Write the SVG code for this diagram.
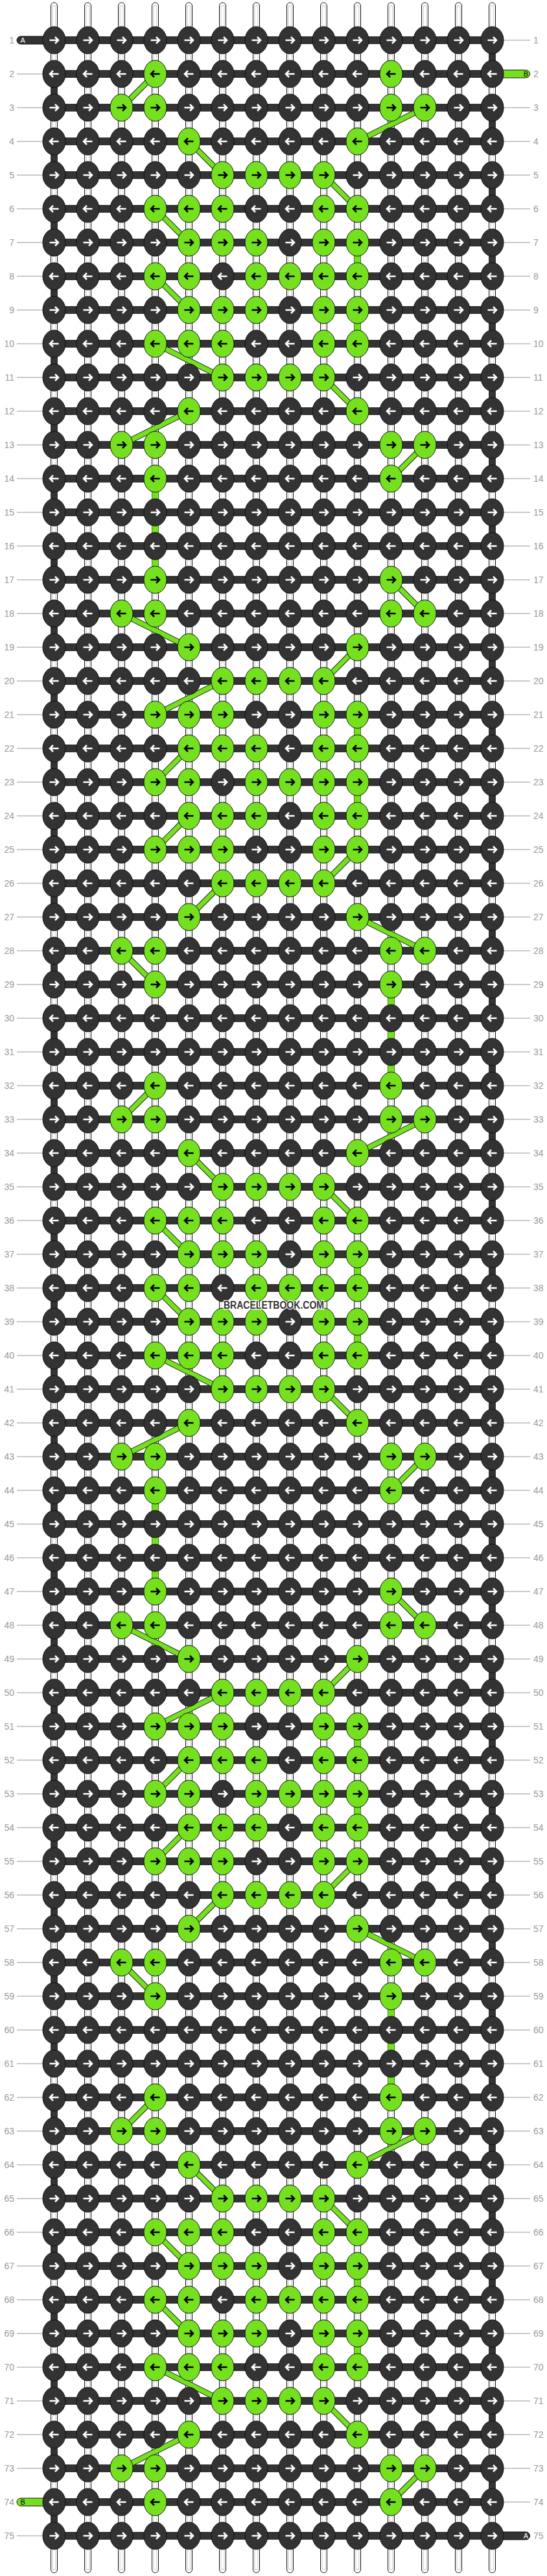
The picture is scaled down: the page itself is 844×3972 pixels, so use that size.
<svg xmlns="http://www.w3.org/2000/svg" xmlns:xlink="http://www.w3.org/1999/xlink" width="844" height="3972" viewBox="0 0 844 3972">
<style>
.kn{fill:#333;color:#fff}
.g{fill:#75e11e;color:#000}
.vs{fill:#fff;stroke:#111;stroke-width:1}
.vi{fill:none;stroke:#c8c8c8;stroke-width:1}
.hb{fill:none;stroke:#333;stroke-width:12}
.tn{fill:none;stroke:#333;stroke-width:11;stroke-dasharray:52 52}
.gv{fill:none;stroke:#75e11e;stroke-width:10}
.do{fill:none;stroke:#1a1a1a;stroke-width:9}
.di{fill:none;stroke:#75e11e;stroke-width:7}
.lb{font-family:"Liberation Sans",Arial,sans-serif;font-size:14px;fill:#999}
.ll{text-anchor:end}
.ln{fill:none;stroke:#bbb;stroke-width:1.5}
.st{font-family:"Liberation Sans",Arial,sans-serif;font-size:11px}
</style>
<defs>
<g id="R"><ellipse rx="17.5" ry="21" stroke="#111" stroke-width="1"/><path d="M-7 0H6M1.5-5L6.5 0 1.5 5" fill="none" stroke="currentColor" stroke-width="2.6"/></g>
<g id="L"><ellipse rx="17.5" ry="21" stroke="#111" stroke-width="1"/><path d="M7 0H-6M-1.5-5L-6.5 0-1.5 5" fill="none" stroke="currentColor" stroke-width="2.6"/></g>
<path id="dg1" d="M239 114L187 166M655 166L551 218M291 218L343 270M499 270L551 322M239 322L291 374M239 426L291 478M239 530L343 582M499 582L551 634M291 634L187 686M655 686L603 738"/>
<path id="dg2" d="M603 894L655 946M187 946L291 998M551 998L499 1050M343 1050L239 1102M291 1154L239 1206M291 1258L239 1310M551 1310L499 1362M343 1362L291 1414M551 1414L655 1466M187 1466L239 1518"/>
<path id="gv1" d="M551 374V426M551 478V530"/>
<path id="gv2" d="M551 1102V1154M551 1206V1258"/>
</defs>
<rect width="844" height="3972" fill="#fff"/>
<g id="connectors" transform="translate(.5 0)">
<g id="vertical-strands">
<rect class="vs" x="78" y="4" width="10" height="3963" rx="5"/><rect class="vi" x="80.5" y="9" width="5" height="3953"/>
<rect class="vs" x="130" y="4" width="10" height="3963" rx="5"/><rect class="vi" x="132.5" y="9" width="5" height="3953"/>
<rect class="vs" x="182" y="4" width="10" height="3963" rx="5"/><rect class="vi" x="184.5" y="9" width="5" height="3953"/>
<rect class="vs" x="234" y="4" width="10" height="3963" rx="5"/><rect class="vi" x="236.5" y="9" width="5" height="3953"/>
<rect class="vs" x="286" y="4" width="10" height="3963" rx="5"/><rect class="vi" x="288.5" y="9" width="5" height="3953"/>
<rect class="vs" x="338" y="4" width="10" height="3963" rx="5"/><rect class="vi" x="340.5" y="9" width="5" height="3953"/>
<rect class="vs" x="390" y="4" width="10" height="3963" rx="5"/><rect class="vi" x="392.5" y="9" width="5" height="3953"/>
<rect class="vs" x="442" y="4" width="10" height="3963" rx="5"/><rect class="vi" x="444.5" y="9" width="5" height="3953"/>
<rect class="vs" x="494" y="4" width="10" height="3963" rx="5"/><rect class="vi" x="496.5" y="9" width="5" height="3953"/>
<rect class="vs" x="546" y="4" width="10" height="3963" rx="5"/><rect class="vi" x="548.5" y="9" width="5" height="3953"/>
<rect class="vs" x="598" y="4" width="10" height="3963" rx="5"/><rect class="vi" x="600.5" y="9" width="5" height="3953"/>
<rect class="vs" x="650" y="4" width="10" height="3963" rx="5"/><rect class="vi" x="652.5" y="9" width="5" height="3953"/>
<rect class="vs" x="702" y="4" width="10" height="3963" rx="5"/><rect class="vi" x="704.5" y="9" width="5" height="3953"/>
<rect class="vs" x="754" y="4" width="10" height="3963" rx="5"/><rect class="vi" x="756.5" y="9" width="5" height="3953"/>
</g>
<path class="tn" d="M83 114V3910"/>
<path class="tn" d="M759 62V3858"/>
<g id="green-verticals">
<use href="#gv1" class="gv"/><use href="#gv1" class="gv" y="1560"/><use href="#gv1" class="gv" y="3120"/>
<use href="#gv2" class="gv"/><use href="#gv2" class="gv" y="1560"/>
<path class="gv" d="M239 738V894M239 2298V2454M603 1518V1674M603 3078V3234"/>
</g>
<path class="hb" d="M83 62H759M83 114H759M83 166H759M83 218H759M83 270H759M83 322H759M83 374H759M83 426H759M83 478H759M83 530H759M83 582H759M83 634H759M83 686H759M83 738H759M83 790H759M83 842H759M83 894H759M83 946H759M83 998H759M83 1050H759M83 1102H759M83 1154H759M83 1206H759M83 1258H759M83 1310H759M83 1362H759M83 1414H759M83 1466H759M83 1518H759M83 1570H759M83 1622H759M83 1674H759M83 1726H759M83 1778H759M83 1830H759M83 1882H759M83 1934H759M83 1986H759M83 2038H759M83 2090H759M83 2142H759M83 2194H759M83 2246H759M83 2298H759M83 2350H759M83 2402H759M83 2454H759M83 2506H759M83 2558H759M83 2610H759M83 2662H759M83 2714H759M83 2766H759M83 2818H759M83 2870H759M83 2922H759M83 2974H759M83 3026H759M83 3078H759M83 3130H759M83 3182H759M83 3234H759M83 3286H759M83 3338H759M83 3390H759M83 3442H759M83 3494H759M83 3546H759M83 3598H759M83 3650H759M83 3702H759M83 3754H759M83 3806H759M83 3858H759M83 3910H759"/>
<g id="stubs">
<rect x="25.5" y="56" width="60" height="12" rx="6" fill="#333" stroke="#111"/>
<rect x="758" y="108" width="59" height="12" rx="6" fill="#75e11e" stroke="#111"/>
<rect x="25.5" y="3852" width="60" height="12" rx="6" fill="#75e11e" stroke="#111"/>
<rect x="758" y="3904" width="59" height="12" rx="6" fill="#333" stroke="#111"/>
</g>
<g id="diagonals">
<use href="#dg1" class="do"/><use href="#dg1" class="di"/>
<use href="#dg1" class="do" y="1560"/><use href="#dg1" class="di" y="1560"/>
<use href="#dg1" class="do" y="3120"/><use href="#dg1" class="di" y="3120"/>
<use href="#dg2" class="do"/><use href="#dg2" class="di"/>
<use href="#dg2" class="do" y="1560"/><use href="#dg2" class="di" y="1560"/>
</g>
</g>
<g id="stub-labels" class="st">
<text x="31.5" y="66" fill="#fff">A</text>
<text x="815" y="118" fill="#000" text-anchor="end">B</text>
<text x="31.5" y="3862" fill="#000">B</text>
<text x="815" y="3914" fill="#fff" text-anchor="end">A</text>
</g>
<path class="ln" d="M26 114h40M26 166h40M26 218h40M26 270h40M26 322h40M26 374h40M26 426h40M26 478h40M26 530h40M26 582h40M26 634h40M26 686h40M26 738h40M26 790h40M26 842h40M26 894h40M26 946h40M26 998h40M26 1050h40M26 1102h40M26 1154h40M26 1206h40M26 1258h40M26 1310h40M26 1362h40M26 1414h40M26 1466h40M26 1518h40M26 1570h40M26 1622h40M26 1674h40M26 1726h40M26 1778h40M26 1830h40M26 1882h40M26 1934h40M26 1986h40M26 2038h40M26 2090h40M26 2142h40M26 2194h40M26 2246h40M26 2298h40M26 2350h40M26 2402h40M26 2454h40M26 2506h40M26 2558h40M26 2610h40M26 2662h40M26 2714h40M26 2766h40M26 2818h40M26 2870h40M26 2922h40M26 2974h40M26 3026h40M26 3078h40M26 3130h40M26 3182h40M26 3234h40M26 3286h40M26 3338h40M26 3390h40M26 3442h40M26 3494h40M26 3546h40M26 3598h40M26 3650h40M26 3702h40M26 3754h40M26 3806h40M26 3910h40"/>
<path class="ln" d="M777 62h41M777 166h41M777 218h41M777 270h41M777 322h41M777 374h41M777 426h41M777 478h41M777 530h41M777 582h41M777 634h41M777 686h41M777 738h41M777 790h41M777 842h41M777 894h41M777 946h41M777 998h41M777 1050h41M777 1102h41M777 1154h41M777 1206h41M777 1258h41M777 1310h41M777 1362h41M777 1414h41M777 1466h41M777 1518h41M777 1570h41M777 1622h41M777 1674h41M777 1726h41M777 1778h41M777 1830h41M777 1882h41M777 1934h41M777 1986h41M777 2038h41M777 2090h41M777 2142h41M777 2194h41M777 2246h41M777 2298h41M777 2350h41M777 2402h41M777 2454h41M777 2506h41M777 2558h41M777 2610h41M777 2662h41M777 2714h41M777 2766h41M777 2818h41M777 2870h41M777 2922h41M777 2974h41M777 3026h41M777 3078h41M777 3130h41M777 3182h41M777 3234h41M777 3286h41M777 3338h41M777 3390h41M777 3442h41M777 3494h41M777 3546h41M777 3598h41M777 3650h41M777 3702h41M777 3754h41M777 3806h41M777 3858h41"/>
<g id="row-labels" class="lb">
<text class="ll" x="22" y="67">1</text><text x="823" y="67">1</text>
<text class="ll" x="22" y="119">2</text><text x="823" y="119">2</text>
<text class="ll" x="22" y="171">3</text><text x="823" y="171">3</text>
<text class="ll" x="22" y="223">4</text><text x="823" y="223">4</text>
<text class="ll" x="22" y="275">5</text><text x="823" y="275">5</text>
<text class="ll" x="22" y="327">6</text><text x="823" y="327">6</text>
<text class="ll" x="22" y="379">7</text><text x="823" y="379">7</text>
<text class="ll" x="22" y="431">8</text><text x="823" y="431">8</text>
<text class="ll" x="22" y="483">9</text><text x="823" y="483">9</text>
<text class="ll" x="22" y="535">10</text><text x="823" y="535">10</text>
<text class="ll" x="22" y="587">11</text><text x="823" y="587">11</text>
<text class="ll" x="22" y="639">12</text><text x="823" y="639">12</text>
<text class="ll" x="22" y="691">13</text><text x="823" y="691">13</text>
<text class="ll" x="22" y="743">14</text><text x="823" y="743">14</text>
<text class="ll" x="22" y="795">15</text><text x="823" y="795">15</text>
<text class="ll" x="22" y="847">16</text><text x="823" y="847">16</text>
<text class="ll" x="22" y="899">17</text><text x="823" y="899">17</text>
<text class="ll" x="22" y="951">18</text><text x="823" y="951">18</text>
<text class="ll" x="22" y="1003">19</text><text x="823" y="1003">19</text>
<text class="ll" x="22" y="1055">20</text><text x="823" y="1055">20</text>
<text class="ll" x="22" y="1107">21</text><text x="823" y="1107">21</text>
<text class="ll" x="22" y="1159">22</text><text x="823" y="1159">22</text>
<text class="ll" x="22" y="1211">23</text><text x="823" y="1211">23</text>
<text class="ll" x="22" y="1263">24</text><text x="823" y="1263">24</text>
<text class="ll" x="22" y="1315">25</text><text x="823" y="1315">25</text>
<text class="ll" x="22" y="1367">26</text><text x="823" y="1367">26</text>
<text class="ll" x="22" y="1419">27</text><text x="823" y="1419">27</text>
<text class="ll" x="22" y="1471">28</text><text x="823" y="1471">28</text>
<text class="ll" x="22" y="1523">29</text><text x="823" y="1523">29</text>
<text class="ll" x="22" y="1575">30</text><text x="823" y="1575">30</text>
<text class="ll" x="22" y="1627">31</text><text x="823" y="1627">31</text>
<text class="ll" x="22" y="1679">32</text><text x="823" y="1679">32</text>
<text class="ll" x="22" y="1731">33</text><text x="823" y="1731">33</text>
<text class="ll" x="22" y="1783">34</text><text x="823" y="1783">34</text>
<text class="ll" x="22" y="1835">35</text><text x="823" y="1835">35</text>
<text class="ll" x="22" y="1887">36</text><text x="823" y="1887">36</text>
<text class="ll" x="22" y="1939">37</text><text x="823" y="1939">37</text>
<text class="ll" x="22" y="1991">38</text><text x="823" y="1991">38</text>
<text class="ll" x="22" y="2043">39</text><text x="823" y="2043">39</text>
<text class="ll" x="22" y="2095">40</text><text x="823" y="2095">40</text>
<text class="ll" x="22" y="2147">41</text><text x="823" y="2147">41</text>
<text class="ll" x="22" y="2199">42</text><text x="823" y="2199">42</text>
<text class="ll" x="22" y="2251">43</text><text x="823" y="2251">43</text>
<text class="ll" x="22" y="2303">44</text><text x="823" y="2303">44</text>
<text class="ll" x="22" y="2355">45</text><text x="823" y="2355">45</text>
<text class="ll" x="22" y="2407">46</text><text x="823" y="2407">46</text>
<text class="ll" x="22" y="2459">47</text><text x="823" y="2459">47</text>
<text class="ll" x="22" y="2511">48</text><text x="823" y="2511">48</text>
<text class="ll" x="22" y="2563">49</text><text x="823" y="2563">49</text>
<text class="ll" x="22" y="2615">50</text><text x="823" y="2615">50</text>
<text class="ll" x="22" y="2667">51</text><text x="823" y="2667">51</text>
<text class="ll" x="22" y="2719">52</text><text x="823" y="2719">52</text>
<text class="ll" x="22" y="2771">53</text><text x="823" y="2771">53</text>
<text class="ll" x="22" y="2823">54</text><text x="823" y="2823">54</text>
<text class="ll" x="22" y="2875">55</text><text x="823" y="2875">55</text>
<text class="ll" x="22" y="2927">56</text><text x="823" y="2927">56</text>
<text class="ll" x="22" y="2979">57</text><text x="823" y="2979">57</text>
<text class="ll" x="22" y="3031">58</text><text x="823" y="3031">58</text>
<text class="ll" x="22" y="3083">59</text><text x="823" y="3083">59</text>
<text class="ll" x="22" y="3135">60</text><text x="823" y="3135">60</text>
<text class="ll" x="22" y="3187">61</text><text x="823" y="3187">61</text>
<text class="ll" x="22" y="3239">62</text><text x="823" y="3239">62</text>
<text class="ll" x="22" y="3291">63</text><text x="823" y="3291">63</text>
<text class="ll" x="22" y="3343">64</text><text x="823" y="3343">64</text>
<text class="ll" x="22" y="3395">65</text><text x="823" y="3395">65</text>
<text class="ll" x="22" y="3447">66</text><text x="823" y="3447">66</text>
<text class="ll" x="22" y="3499">67</text><text x="823" y="3499">67</text>
<text class="ll" x="22" y="3551">68</text><text x="823" y="3551">68</text>
<text class="ll" x="22" y="3603">69</text><text x="823" y="3603">69</text>
<text class="ll" x="22" y="3655">70</text><text x="823" y="3655">70</text>
<text class="ll" x="22" y="3707">71</text><text x="823" y="3707">71</text>
<text class="ll" x="22" y="3759">72</text><text x="823" y="3759">72</text>
<text class="ll" x="22" y="3811">73</text><text x="823" y="3811">73</text>
<text class="ll" x="22" y="3863">74</text><text x="823" y="3863">74</text>
<text class="ll" x="22" y="3915">75</text><text x="823" y="3915">75</text>
</g>
<g id="knots" class="kn">
<g id="row1" transform="translate(.5 62)"><g id="k1-1"><use href="#R" x="83"/></g><g id="k1-2"><use href="#R" x="135"/></g><g id="k1-3"><use href="#R" x="187"/></g><g id="k1-4"><use href="#R" x="239"/></g><g id="k1-5"><use href="#R" x="291"/></g><g id="k1-6"><use href="#R" x="343"/></g><g id="k1-7"><use href="#R" x="395"/></g><g id="k1-8"><use href="#R" x="447"/></g><g id="k1-9"><use href="#R" x="499"/></g><g id="k1-10"><use href="#R" x="551"/></g><g id="k1-11"><use href="#R" x="603"/></g><g id="k1-12"><use href="#R" x="655"/></g><g id="k1-13"><use href="#R" x="707"/></g><g id="k1-14"><use href="#R" x="759"/></g></g>
<g id="row2" transform="translate(.5 114)"><g id="k2-1"><use href="#L" x="83"/></g><g id="k2-2"><use href="#L" x="135"/></g><g id="k2-3"><use href="#L" x="187"/></g><g id="k2-4" class="g"><use href="#L" x="239"/></g><g id="k2-5"><use href="#L" x="291"/></g><g id="k2-6"><use href="#L" x="343"/></g><g id="k2-7"><use href="#L" x="395"/></g><g id="k2-8"><use href="#L" x="447"/></g><g id="k2-9"><use href="#L" x="499"/></g><g id="k2-10"><use href="#L" x="551"/></g><g id="k2-11" class="g"><use href="#L" x="603"/></g><g id="k2-12"><use href="#L" x="655"/></g><g id="k2-13"><use href="#L" x="707"/></g><g id="k2-14"><use href="#L" x="759"/></g></g>
<g id="row3" transform="translate(.5 166)"><g id="k3-1"><use href="#R" x="83"/></g><g id="k3-2"><use href="#R" x="135"/></g><g id="k3-3" class="g"><use href="#R" x="187"/></g><g id="k3-4" class="g"><use href="#R" x="239"/></g><g id="k3-5"><use href="#R" x="291"/></g><g id="k3-6"><use href="#R" x="343"/></g><g id="k3-7"><use href="#R" x="395"/></g><g id="k3-8"><use href="#R" x="447"/></g><g id="k3-9"><use href="#R" x="499"/></g><g id="k3-10"><use href="#R" x="551"/></g><g id="k3-11" class="g"><use href="#R" x="603"/></g><g id="k3-12" class="g"><use href="#R" x="655"/></g><g id="k3-13"><use href="#R" x="707"/></g><g id="k3-14"><use href="#R" x="759"/></g></g>
<g id="row4" transform="translate(.5 218)"><g id="k4-1"><use href="#L" x="83"/></g><g id="k4-2"><use href="#L" x="135"/></g><g id="k4-3"><use href="#L" x="187"/></g><g id="k4-4"><use href="#L" x="239"/></g><g id="k4-5" class="g"><use href="#L" x="291"/></g><g id="k4-6"><use href="#L" x="343"/></g><g id="k4-7"><use href="#L" x="395"/></g><g id="k4-8"><use href="#L" x="447"/></g><g id="k4-9"><use href="#L" x="499"/></g><g id="k4-10" class="g"><use href="#L" x="551"/></g><g id="k4-11"><use href="#L" x="603"/></g><g id="k4-12"><use href="#L" x="655"/></g><g id="k4-13"><use href="#L" x="707"/></g><g id="k4-14"><use href="#L" x="759"/></g></g>
<g id="row5" transform="translate(.5 270)"><g id="k5-1"><use href="#R" x="83"/></g><g id="k5-2"><use href="#R" x="135"/></g><g id="k5-3"><use href="#R" x="187"/></g><g id="k5-4"><use href="#R" x="239"/></g><g id="k5-5"><use href="#R" x="291"/></g><g id="k5-6" class="g"><use href="#R" x="343"/></g><g id="k5-7" class="g"><use href="#R" x="395"/></g><g id="k5-8" class="g"><use href="#R" x="447"/></g><g id="k5-9" class="g"><use href="#R" x="499"/></g><g id="k5-10"><use href="#R" x="551"/></g><g id="k5-11"><use href="#R" x="603"/></g><g id="k5-12"><use href="#R" x="655"/></g><g id="k5-13"><use href="#R" x="707"/></g><g id="k5-14"><use href="#R" x="759"/></g></g>
<g id="row6" transform="translate(.5 322)"><g id="k6-1"><use href="#L" x="83"/></g><g id="k6-2"><use href="#L" x="135"/></g><g id="k6-3"><use href="#L" x="187"/></g><g id="k6-4" class="g"><use href="#L" x="239"/></g><g id="k6-5" class="g"><use href="#L" x="291"/></g><g id="k6-6" class="g"><use href="#L" x="343"/></g><g id="k6-7"><use href="#L" x="395"/></g><g id="k6-8"><use href="#L" x="447"/></g><g id="k6-9" class="g"><use href="#L" x="499"/></g><g id="k6-10" class="g"><use href="#L" x="551"/></g><g id="k6-11"><use href="#L" x="603"/></g><g id="k6-12"><use href="#L" x="655"/></g><g id="k6-13"><use href="#L" x="707"/></g><g id="k6-14"><use href="#L" x="759"/></g></g>
<g id="row7" transform="translate(.5 374)"><g id="k7-1"><use href="#R" x="83"/></g><g id="k7-2"><use href="#R" x="135"/></g><g id="k7-3"><use href="#R" x="187"/></g><g id="k7-4"><use href="#R" x="239"/></g><g id="k7-5" class="g"><use href="#R" x="291"/></g><g id="k7-6" class="g"><use href="#R" x="343"/></g><g id="k7-7" class="g"><use href="#R" x="395"/></g><g id="k7-8"><use href="#R" x="447"/></g><g id="k7-9" class="g"><use href="#R" x="499"/></g><g id="k7-10" class="g"><use href="#R" x="551"/></g><g id="k7-11"><use href="#R" x="603"/></g><g id="k7-12"><use href="#R" x="655"/></g><g id="k7-13"><use href="#R" x="707"/></g><g id="k7-14"><use href="#R" x="759"/></g></g>
<g id="row8" transform="translate(.5 426)"><g id="k8-1"><use href="#L" x="83"/></g><g id="k8-2"><use href="#L" x="135"/></g><g id="k8-3"><use href="#L" x="187"/></g><g id="k8-4" class="g"><use href="#L" x="239"/></g><g id="k8-5" class="g"><use href="#L" x="291"/></g><g id="k8-6"><use href="#L" x="343"/></g><g id="k8-7" class="g"><use href="#L" x="395"/></g><g id="k8-8" class="g"><use href="#L" x="447"/></g><g id="k8-9" class="g"><use href="#L" x="499"/></g><g id="k8-10" class="g"><use href="#L" x="551"/></g><g id="k8-11"><use href="#L" x="603"/></g><g id="k8-12"><use href="#L" x="655"/></g><g id="k8-13"><use href="#L" x="707"/></g><g id="k8-14"><use href="#L" x="759"/></g></g>
<g id="row9" transform="translate(.5 478)"><g id="k9-1"><use href="#R" x="83"/></g><g id="k9-2"><use href="#R" x="135"/></g><g id="k9-3"><use href="#R" x="187"/></g><g id="k9-4"><use href="#R" x="239"/></g><g id="k9-5" class="g"><use href="#R" x="291"/></g><g id="k9-6" class="g"><use href="#R" x="343"/></g><g id="k9-7" class="g"><use href="#R" x="395"/></g><g id="k9-8"><use href="#R" x="447"/></g><g id="k9-9" class="g"><use href="#R" x="499"/></g><g id="k9-10" class="g"><use href="#R" x="551"/></g><g id="k9-11"><use href="#R" x="603"/></g><g id="k9-12"><use href="#R" x="655"/></g><g id="k9-13"><use href="#R" x="707"/></g><g id="k9-14"><use href="#R" x="759"/></g></g>
<g id="row10" transform="translate(.5 530)"><g id="k10-1"><use href="#L" x="83"/></g><g id="k10-2"><use href="#L" x="135"/></g><g id="k10-3"><use href="#L" x="187"/></g><g id="k10-4" class="g"><use href="#L" x="239"/></g><g id="k10-5" class="g"><use href="#L" x="291"/></g><g id="k10-6" class="g"><use href="#L" x="343"/></g><g id="k10-7"><use href="#L" x="395"/></g><g id="k10-8"><use href="#L" x="447"/></g><g id="k10-9" class="g"><use href="#L" x="499"/></g><g id="k10-10" class="g"><use href="#L" x="551"/></g><g id="k10-11"><use href="#L" x="603"/></g><g id="k10-12"><use href="#L" x="655"/></g><g id="k10-13"><use href="#L" x="707"/></g><g id="k10-14"><use href="#L" x="759"/></g></g>
<g id="row11" transform="translate(.5 582)"><g id="k11-1"><use href="#R" x="83"/></g><g id="k11-2"><use href="#R" x="135"/></g><g id="k11-3"><use href="#R" x="187"/></g><g id="k11-4"><use href="#R" x="239"/></g><g id="k11-5"><use href="#R" x="291"/></g><g id="k11-6" class="g"><use href="#R" x="343"/></g><g id="k11-7" class="g"><use href="#R" x="395"/></g><g id="k11-8" class="g"><use href="#R" x="447"/></g><g id="k11-9" class="g"><use href="#R" x="499"/></g><g id="k11-10"><use href="#R" x="551"/></g><g id="k11-11"><use href="#R" x="603"/></g><g id="k11-12"><use href="#R" x="655"/></g><g id="k11-13"><use href="#R" x="707"/></g><g id="k11-14"><use href="#R" x="759"/></g></g>
<g id="row12" transform="translate(.5 634)"><g id="k12-1"><use href="#L" x="83"/></g><g id="k12-2"><use href="#L" x="135"/></g><g id="k12-3"><use href="#L" x="187"/></g><g id="k12-4"><use href="#L" x="239"/></g><g id="k12-5" class="g"><use href="#L" x="291"/></g><g id="k12-6"><use href="#L" x="343"/></g><g id="k12-7"><use href="#L" x="395"/></g><g id="k12-8"><use href="#L" x="447"/></g><g id="k12-9"><use href="#L" x="499"/></g><g id="k12-10" class="g"><use href="#L" x="551"/></g><g id="k12-11"><use href="#L" x="603"/></g><g id="k12-12"><use href="#L" x="655"/></g><g id="k12-13"><use href="#L" x="707"/></g><g id="k12-14"><use href="#L" x="759"/></g></g>
<g id="row13" transform="translate(.5 686)"><g id="k13-1"><use href="#R" x="83"/></g><g id="k13-2"><use href="#R" x="135"/></g><g id="k13-3" class="g"><use href="#R" x="187"/></g><g id="k13-4" class="g"><use href="#R" x="239"/></g><g id="k13-5"><use href="#R" x="291"/></g><g id="k13-6"><use href="#R" x="343"/></g><g id="k13-7"><use href="#R" x="395"/></g><g id="k13-8"><use href="#R" x="447"/></g><g id="k13-9"><use href="#R" x="499"/></g><g id="k13-10"><use href="#R" x="551"/></g><g id="k13-11" class="g"><use href="#R" x="603"/></g><g id="k13-12" class="g"><use href="#R" x="655"/></g><g id="k13-13"><use href="#R" x="707"/></g><g id="k13-14"><use href="#R" x="759"/></g></g>
<g id="row14" transform="translate(.5 738)"><g id="k14-1"><use href="#L" x="83"/></g><g id="k14-2"><use href="#L" x="135"/></g><g id="k14-3"><use href="#L" x="187"/></g><g id="k14-4" class="g"><use href="#L" x="239"/></g><g id="k14-5"><use href="#L" x="291"/></g><g id="k14-6"><use href="#L" x="343"/></g><g id="k14-7"><use href="#L" x="395"/></g><g id="k14-8"><use href="#L" x="447"/></g><g id="k14-9"><use href="#L" x="499"/></g><g id="k14-10"><use href="#L" x="551"/></g><g id="k14-11" class="g"><use href="#L" x="603"/></g><g id="k14-12"><use href="#L" x="655"/></g><g id="k14-13"><use href="#L" x="707"/></g><g id="k14-14"><use href="#L" x="759"/></g></g>
<g id="row15" transform="translate(.5 790)"><g id="k15-1"><use href="#R" x="83"/></g><g id="k15-2"><use href="#R" x="135"/></g><g id="k15-3"><use href="#R" x="187"/></g><g id="k15-4"><use href="#R" x="239"/></g><g id="k15-5"><use href="#R" x="291"/></g><g id="k15-6"><use href="#R" x="343"/></g><g id="k15-7"><use href="#R" x="395"/></g><g id="k15-8"><use href="#R" x="447"/></g><g id="k15-9"><use href="#R" x="499"/></g><g id="k15-10"><use href="#R" x="551"/></g><g id="k15-11"><use href="#R" x="603"/></g><g id="k15-12"><use href="#R" x="655"/></g><g id="k15-13"><use href="#R" x="707"/></g><g id="k15-14"><use href="#R" x="759"/></g></g>
<g id="row16" transform="translate(.5 842)"><g id="k16-1"><use href="#L" x="83"/></g><g id="k16-2"><use href="#L" x="135"/></g><g id="k16-3"><use href="#L" x="187"/></g><g id="k16-4"><use href="#L" x="239"/></g><g id="k16-5"><use href="#L" x="291"/></g><g id="k16-6"><use href="#L" x="343"/></g><g id="k16-7"><use href="#L" x="395"/></g><g id="k16-8"><use href="#L" x="447"/></g><g id="k16-9"><use href="#L" x="499"/></g><g id="k16-10"><use href="#L" x="551"/></g><g id="k16-11"><use href="#L" x="603"/></g><g id="k16-12"><use href="#L" x="655"/></g><g id="k16-13"><use href="#L" x="707"/></g><g id="k16-14"><use href="#L" x="759"/></g></g>
<g id="row17" transform="translate(.5 894)"><g id="k17-1"><use href="#R" x="83"/></g><g id="k17-2"><use href="#R" x="135"/></g><g id="k17-3"><use href="#R" x="187"/></g><g id="k17-4" class="g"><use href="#R" x="239"/></g><g id="k17-5"><use href="#R" x="291"/></g><g id="k17-6"><use href="#R" x="343"/></g><g id="k17-7"><use href="#R" x="395"/></g><g id="k17-8"><use href="#R" x="447"/></g><g id="k17-9"><use href="#R" x="499"/></g><g id="k17-10"><use href="#R" x="551"/></g><g id="k17-11" class="g"><use href="#R" x="603"/></g><g id="k17-12"><use href="#R" x="655"/></g><g id="k17-13"><use href="#R" x="707"/></g><g id="k17-14"><use href="#R" x="759"/></g></g>
<g id="row18" transform="translate(.5 946)"><g id="k18-1"><use href="#L" x="83"/></g><g id="k18-2"><use href="#L" x="135"/></g><g id="k18-3" class="g"><use href="#L" x="187"/></g><g id="k18-4" class="g"><use href="#L" x="239"/></g><g id="k18-5"><use href="#L" x="291"/></g><g id="k18-6"><use href="#L" x="343"/></g><g id="k18-7"><use href="#L" x="395"/></g><g id="k18-8"><use href="#L" x="447"/></g><g id="k18-9"><use href="#L" x="499"/></g><g id="k18-10"><use href="#L" x="551"/></g><g id="k18-11" class="g"><use href="#L" x="603"/></g><g id="k18-12" class="g"><use href="#L" x="655"/></g><g id="k18-13"><use href="#L" x="707"/></g><g id="k18-14"><use href="#L" x="759"/></g></g>
<g id="row19" transform="translate(.5 998)"><g id="k19-1"><use href="#R" x="83"/></g><g id="k19-2"><use href="#R" x="135"/></g><g id="k19-3"><use href="#R" x="187"/></g><g id="k19-4"><use href="#R" x="239"/></g><g id="k19-5" class="g"><use href="#R" x="291"/></g><g id="k19-6"><use href="#R" x="343"/></g><g id="k19-7"><use href="#R" x="395"/></g><g id="k19-8"><use href="#R" x="447"/></g><g id="k19-9"><use href="#R" x="499"/></g><g id="k19-10" class="g"><use href="#R" x="551"/></g><g id="k19-11"><use href="#R" x="603"/></g><g id="k19-12"><use href="#R" x="655"/></g><g id="k19-13"><use href="#R" x="707"/></g><g id="k19-14"><use href="#R" x="759"/></g></g>
<g id="row20" transform="translate(.5 1050)"><g id="k20-1"><use href="#L" x="83"/></g><g id="k20-2"><use href="#L" x="135"/></g><g id="k20-3"><use href="#L" x="187"/></g><g id="k20-4"><use href="#L" x="239"/></g><g id="k20-5"><use href="#L" x="291"/></g><g id="k20-6" class="g"><use href="#L" x="343"/></g><g id="k20-7" class="g"><use href="#L" x="395"/></g><g id="k20-8" class="g"><use href="#L" x="447"/></g><g id="k20-9" class="g"><use href="#L" x="499"/></g><g id="k20-10"><use href="#L" x="551"/></g><g id="k20-11"><use href="#L" x="603"/></g><g id="k20-12"><use href="#L" x="655"/></g><g id="k20-13"><use href="#L" x="707"/></g><g id="k20-14"><use href="#L" x="759"/></g></g>
<g id="row21" transform="translate(.5 1102)"><g id="k21-1"><use href="#R" x="83"/></g><g id="k21-2"><use href="#R" x="135"/></g><g id="k21-3"><use href="#R" x="187"/></g><g id="k21-4" class="g"><use href="#R" x="239"/></g><g id="k21-5" class="g"><use href="#R" x="291"/></g><g id="k21-6" class="g"><use href="#R" x="343"/></g><g id="k21-7"><use href="#R" x="395"/></g><g id="k21-8"><use href="#R" x="447"/></g><g id="k21-9" class="g"><use href="#R" x="499"/></g><g id="k21-10" class="g"><use href="#R" x="551"/></g><g id="k21-11"><use href="#R" x="603"/></g><g id="k21-12"><use href="#R" x="655"/></g><g id="k21-13"><use href="#R" x="707"/></g><g id="k21-14"><use href="#R" x="759"/></g></g>
<g id="row22" transform="translate(.5 1154)"><g id="k22-1"><use href="#L" x="83"/></g><g id="k22-2"><use href="#L" x="135"/></g><g id="k22-3"><use href="#L" x="187"/></g><g id="k22-4"><use href="#L" x="239"/></g><g id="k22-5" class="g"><use href="#L" x="291"/></g><g id="k22-6" class="g"><use href="#L" x="343"/></g><g id="k22-7" class="g"><use href="#L" x="395"/></g><g id="k22-8"><use href="#L" x="447"/></g><g id="k22-9" class="g"><use href="#L" x="499"/></g><g id="k22-10" class="g"><use href="#L" x="551"/></g><g id="k22-11"><use href="#L" x="603"/></g><g id="k22-12"><use href="#L" x="655"/></g><g id="k22-13"><use href="#L" x="707"/></g><g id="k22-14"><use href="#L" x="759"/></g></g>
<g id="row23" transform="translate(.5 1206)"><g id="k23-1"><use href="#R" x="83"/></g><g id="k23-2"><use href="#R" x="135"/></g><g id="k23-3"><use href="#R" x="187"/></g><g id="k23-4" class="g"><use href="#R" x="239"/></g><g id="k23-5" class="g"><use href="#R" x="291"/></g><g id="k23-6"><use href="#R" x="343"/></g><g id="k23-7" class="g"><use href="#R" x="395"/></g><g id="k23-8" class="g"><use href="#R" x="447"/></g><g id="k23-9" class="g"><use href="#R" x="499"/></g><g id="k23-10" class="g"><use href="#R" x="551"/></g><g id="k23-11"><use href="#R" x="603"/></g><g id="k23-12"><use href="#R" x="655"/></g><g id="k23-13"><use href="#R" x="707"/></g><g id="k23-14"><use href="#R" x="759"/></g></g>
<g id="row24" transform="translate(.5 1258)"><g id="k24-1"><use href="#L" x="83"/></g><g id="k24-2"><use href="#L" x="135"/></g><g id="k24-3"><use href="#L" x="187"/></g><g id="k24-4"><use href="#L" x="239"/></g><g id="k24-5" class="g"><use href="#L" x="291"/></g><g id="k24-6" class="g"><use href="#L" x="343"/></g><g id="k24-7" class="g"><use href="#L" x="395"/></g><g id="k24-8"><use href="#L" x="447"/></g><g id="k24-9" class="g"><use href="#L" x="499"/></g><g id="k24-10" class="g"><use href="#L" x="551"/></g><g id="k24-11"><use href="#L" x="603"/></g><g id="k24-12"><use href="#L" x="655"/></g><g id="k24-13"><use href="#L" x="707"/></g><g id="k24-14"><use href="#L" x="759"/></g></g>
<g id="row25" transform="translate(.5 1310)"><g id="k25-1"><use href="#R" x="83"/></g><g id="k25-2"><use href="#R" x="135"/></g><g id="k25-3"><use href="#R" x="187"/></g><g id="k25-4" class="g"><use href="#R" x="239"/></g><g id="k25-5" class="g"><use href="#R" x="291"/></g><g id="k25-6" class="g"><use href="#R" x="343"/></g><g id="k25-7"><use href="#R" x="395"/></g><g id="k25-8"><use href="#R" x="447"/></g><g id="k25-9" class="g"><use href="#R" x="499"/></g><g id="k25-10" class="g"><use href="#R" x="551"/></g><g id="k25-11"><use href="#R" x="603"/></g><g id="k25-12"><use href="#R" x="655"/></g><g id="k25-13"><use href="#R" x="707"/></g><g id="k25-14"><use href="#R" x="759"/></g></g>
<g id="row26" transform="translate(.5 1362)"><g id="k26-1"><use href="#L" x="83"/></g><g id="k26-2"><use href="#L" x="135"/></g><g id="k26-3"><use href="#L" x="187"/></g><g id="k26-4"><use href="#L" x="239"/></g><g id="k26-5"><use href="#L" x="291"/></g><g id="k26-6" class="g"><use href="#L" x="343"/></g><g id="k26-7" class="g"><use href="#L" x="395"/></g><g id="k26-8" class="g"><use href="#L" x="447"/></g><g id="k26-9" class="g"><use href="#L" x="499"/></g><g id="k26-10"><use href="#L" x="551"/></g><g id="k26-11"><use href="#L" x="603"/></g><g id="k26-12"><use href="#L" x="655"/></g><g id="k26-13"><use href="#L" x="707"/></g><g id="k26-14"><use href="#L" x="759"/></g></g>
<g id="row27" transform="translate(.5 1414)"><g id="k27-1"><use href="#R" x="83"/></g><g id="k27-2"><use href="#R" x="135"/></g><g id="k27-3"><use href="#R" x="187"/></g><g id="k27-4"><use href="#R" x="239"/></g><g id="k27-5" class="g"><use href="#R" x="291"/></g><g id="k27-6"><use href="#R" x="343"/></g><g id="k27-7"><use href="#R" x="395"/></g><g id="k27-8"><use href="#R" x="447"/></g><g id="k27-9"><use href="#R" x="499"/></g><g id="k27-10" class="g"><use href="#R" x="551"/></g><g id="k27-11"><use href="#R" x="603"/></g><g id="k27-12"><use href="#R" x="655"/></g><g id="k27-13"><use href="#R" x="707"/></g><g id="k27-14"><use href="#R" x="759"/></g></g>
<g id="row28" transform="translate(.5 1466)"><g id="k28-1"><use href="#L" x="83"/></g><g id="k28-2"><use href="#L" x="135"/></g><g id="k28-3" class="g"><use href="#L" x="187"/></g><g id="k28-4" class="g"><use href="#L" x="239"/></g><g id="k28-5"><use href="#L" x="291"/></g><g id="k28-6"><use href="#L" x="343"/></g><g id="k28-7"><use href="#L" x="395"/></g><g id="k28-8"><use href="#L" x="447"/></g><g id="k28-9"><use href="#L" x="499"/></g><g id="k28-10"><use href="#L" x="551"/></g><g id="k28-11" class="g"><use href="#L" x="603"/></g><g id="k28-12" class="g"><use href="#L" x="655"/></g><g id="k28-13"><use href="#L" x="707"/></g><g id="k28-14"><use href="#L" x="759"/></g></g>
<g id="row29" transform="translate(.5 1518)"><g id="k29-1"><use href="#R" x="83"/></g><g id="k29-2"><use href="#R" x="135"/></g><g id="k29-3"><use href="#R" x="187"/></g><g id="k29-4" class="g"><use href="#R" x="239"/></g><g id="k29-5"><use href="#R" x="291"/></g><g id="k29-6"><use href="#R" x="343"/></g><g id="k29-7"><use href="#R" x="395"/></g><g id="k29-8"><use href="#R" x="447"/></g><g id="k29-9"><use href="#R" x="499"/></g><g id="k29-10"><use href="#R" x="551"/></g><g id="k29-11" class="g"><use href="#R" x="603"/></g><g id="k29-12"><use href="#R" x="655"/></g><g id="k29-13"><use href="#R" x="707"/></g><g id="k29-14"><use href="#R" x="759"/></g></g>
<g id="row30" transform="translate(.5 1570)"><g id="k30-1"><use href="#L" x="83"/></g><g id="k30-2"><use href="#L" x="135"/></g><g id="k30-3"><use href="#L" x="187"/></g><g id="k30-4"><use href="#L" x="239"/></g><g id="k30-5"><use href="#L" x="291"/></g><g id="k30-6"><use href="#L" x="343"/></g><g id="k30-7"><use href="#L" x="395"/></g><g id="k30-8"><use href="#L" x="447"/></g><g id="k30-9"><use href="#L" x="499"/></g><g id="k30-10"><use href="#L" x="551"/></g><g id="k30-11"><use href="#L" x="603"/></g><g id="k30-12"><use href="#L" x="655"/></g><g id="k30-13"><use href="#L" x="707"/></g><g id="k30-14"><use href="#L" x="759"/></g></g>
<g id="row31" transform="translate(.5 1622)"><g id="k31-1"><use href="#R" x="83"/></g><g id="k31-2"><use href="#R" x="135"/></g><g id="k31-3"><use href="#R" x="187"/></g><g id="k31-4"><use href="#R" x="239"/></g><g id="k31-5"><use href="#R" x="291"/></g><g id="k31-6"><use href="#R" x="343"/></g><g id="k31-7"><use href="#R" x="395"/></g><g id="k31-8"><use href="#R" x="447"/></g><g id="k31-9"><use href="#R" x="499"/></g><g id="k31-10"><use href="#R" x="551"/></g><g id="k31-11"><use href="#R" x="603"/></g><g id="k31-12"><use href="#R" x="655"/></g><g id="k31-13"><use href="#R" x="707"/></g><g id="k31-14"><use href="#R" x="759"/></g></g>
<g id="row32" transform="translate(.5 1674)"><g id="k32-1"><use href="#L" x="83"/></g><g id="k32-2"><use href="#L" x="135"/></g><g id="k32-3"><use href="#L" x="187"/></g><g id="k32-4" class="g"><use href="#L" x="239"/></g><g id="k32-5"><use href="#L" x="291"/></g><g id="k32-6"><use href="#L" x="343"/></g><g id="k32-7"><use href="#L" x="395"/></g><g id="k32-8"><use href="#L" x="447"/></g><g id="k32-9"><use href="#L" x="499"/></g><g id="k32-10"><use href="#L" x="551"/></g><g id="k32-11" class="g"><use href="#L" x="603"/></g><g id="k32-12"><use href="#L" x="655"/></g><g id="k32-13"><use href="#L" x="707"/></g><g id="k32-14"><use href="#L" x="759"/></g></g>
<g id="row33" transform="translate(.5 1726)"><g id="k33-1"><use href="#R" x="83"/></g><g id="k33-2"><use href="#R" x="135"/></g><g id="k33-3" class="g"><use href="#R" x="187"/></g><g id="k33-4" class="g"><use href="#R" x="239"/></g><g id="k33-5"><use href="#R" x="291"/></g><g id="k33-6"><use href="#R" x="343"/></g><g id="k33-7"><use href="#R" x="395"/></g><g id="k33-8"><use href="#R" x="447"/></g><g id="k33-9"><use href="#R" x="499"/></g><g id="k33-10"><use href="#R" x="551"/></g><g id="k33-11" class="g"><use href="#R" x="603"/></g><g id="k33-12" class="g"><use href="#R" x="655"/></g><g id="k33-13"><use href="#R" x="707"/></g><g id="k33-14"><use href="#R" x="759"/></g></g>
<g id="row34" transform="translate(.5 1778)"><g id="k34-1"><use href="#L" x="83"/></g><g id="k34-2"><use href="#L" x="135"/></g><g id="k34-3"><use href="#L" x="187"/></g><g id="k34-4"><use href="#L" x="239"/></g><g id="k34-5" class="g"><use href="#L" x="291"/></g><g id="k34-6"><use href="#L" x="343"/></g><g id="k34-7"><use href="#L" x="395"/></g><g id="k34-8"><use href="#L" x="447"/></g><g id="k34-9"><use href="#L" x="499"/></g><g id="k34-10" class="g"><use href="#L" x="551"/></g><g id="k34-11"><use href="#L" x="603"/></g><g id="k34-12"><use href="#L" x="655"/></g><g id="k34-13"><use href="#L" x="707"/></g><g id="k34-14"><use href="#L" x="759"/></g></g>
<g id="row35" transform="translate(.5 1830)"><g id="k35-1"><use href="#R" x="83"/></g><g id="k35-2"><use href="#R" x="135"/></g><g id="k35-3"><use href="#R" x="187"/></g><g id="k35-4"><use href="#R" x="239"/></g><g id="k35-5"><use href="#R" x="291"/></g><g id="k35-6" class="g"><use href="#R" x="343"/></g><g id="k35-7" class="g"><use href="#R" x="395"/></g><g id="k35-8" class="g"><use href="#R" x="447"/></g><g id="k35-9" class="g"><use href="#R" x="499"/></g><g id="k35-10"><use href="#R" x="551"/></g><g id="k35-11"><use href="#R" x="603"/></g><g id="k35-12"><use href="#R" x="655"/></g><g id="k35-13"><use href="#R" x="707"/></g><g id="k35-14"><use href="#R" x="759"/></g></g>
<g id="row36" transform="translate(.5 1882)"><g id="k36-1"><use href="#L" x="83"/></g><g id="k36-2"><use href="#L" x="135"/></g><g id="k36-3"><use href="#L" x="187"/></g><g id="k36-4" class="g"><use href="#L" x="239"/></g><g id="k36-5" class="g"><use href="#L" x="291"/></g><g id="k36-6" class="g"><use href="#L" x="343"/></g><g id="k36-7"><use href="#L" x="395"/></g><g id="k36-8"><use href="#L" x="447"/></g><g id="k36-9" class="g"><use href="#L" x="499"/></g><g id="k36-10" class="g"><use href="#L" x="551"/></g><g id="k36-11"><use href="#L" x="603"/></g><g id="k36-12"><use href="#L" x="655"/></g><g id="k36-13"><use href="#L" x="707"/></g><g id="k36-14"><use href="#L" x="759"/></g></g>
<g id="row37" transform="translate(.5 1934)"><g id="k37-1"><use href="#R" x="83"/></g><g id="k37-2"><use href="#R" x="135"/></g><g id="k37-3"><use href="#R" x="187"/></g><g id="k37-4"><use href="#R" x="239"/></g><g id="k37-5" class="g"><use href="#R" x="291"/></g><g id="k37-6" class="g"><use href="#R" x="343"/></g><g id="k37-7" class="g"><use href="#R" x="395"/></g><g id="k37-8"><use href="#R" x="447"/></g><g id="k37-9" class="g"><use href="#R" x="499"/></g><g id="k37-10" class="g"><use href="#R" x="551"/></g><g id="k37-11"><use href="#R" x="603"/></g><g id="k37-12"><use href="#R" x="655"/></g><g id="k37-13"><use href="#R" x="707"/></g><g id="k37-14"><use href="#R" x="759"/></g></g>
<g id="row38" transform="translate(.5 1986)"><g id="k38-1"><use href="#L" x="83"/></g><g id="k38-2"><use href="#L" x="135"/></g><g id="k38-3"><use href="#L" x="187"/></g><g id="k38-4" class="g"><use href="#L" x="239"/></g><g id="k38-5" class="g"><use href="#L" x="291"/></g><g id="k38-6"><use href="#L" x="343"/></g><g id="k38-7" class="g"><use href="#L" x="395"/></g><g id="k38-8" class="g"><use href="#L" x="447"/></g><g id="k38-9" class="g"><use href="#L" x="499"/></g><g id="k38-10" class="g"><use href="#L" x="551"/></g><g id="k38-11"><use href="#L" x="603"/></g><g id="k38-12"><use href="#L" x="655"/></g><g id="k38-13"><use href="#L" x="707"/></g><g id="k38-14"><use href="#L" x="759"/></g></g>
<g id="row39" transform="translate(.5 2038)"><g id="k39-1"><use href="#R" x="83"/></g><g id="k39-2"><use href="#R" x="135"/></g><g id="k39-3"><use href="#R" x="187"/></g><g id="k39-4"><use href="#R" x="239"/></g><g id="k39-5" class="g"><use href="#R" x="291"/></g><g id="k39-6" class="g"><use href="#R" x="343"/></g><g id="k39-7" class="g"><use href="#R" x="395"/></g><g id="k39-8"><use href="#R" x="447"/></g><g id="k39-9" class="g"><use href="#R" x="499"/></g><g id="k39-10" class="g"><use href="#R" x="551"/></g><g id="k39-11"><use href="#R" x="603"/></g><g id="k39-12"><use href="#R" x="655"/></g><g id="k39-13"><use href="#R" x="707"/></g><g id="k39-14"><use href="#R" x="759"/></g></g>
<g id="row40" transform="translate(.5 2090)"><g id="k40-1"><use href="#L" x="83"/></g><g id="k40-2"><use href="#L" x="135"/></g><g id="k40-3"><use href="#L" x="187"/></g><g id="k40-4" class="g"><use href="#L" x="239"/></g><g id="k40-5" class="g"><use href="#L" x="291"/></g><g id="k40-6" class="g"><use href="#L" x="343"/></g><g id="k40-7"><use href="#L" x="395"/></g><g id="k40-8"><use href="#L" x="447"/></g><g id="k40-9" class="g"><use href="#L" x="499"/></g><g id="k40-10" class="g"><use href="#L" x="551"/></g><g id="k40-11"><use href="#L" x="603"/></g><g id="k40-12"><use href="#L" x="655"/></g><g id="k40-13"><use href="#L" x="707"/></g><g id="k40-14"><use href="#L" x="759"/></g></g>
<g id="row41" transform="translate(.5 2142)"><g id="k41-1"><use href="#R" x="83"/></g><g id="k41-2"><use href="#R" x="135"/></g><g id="k41-3"><use href="#R" x="187"/></g><g id="k41-4"><use href="#R" x="239"/></g><g id="k41-5"><use href="#R" x="291"/></g><g id="k41-6" class="g"><use href="#R" x="343"/></g><g id="k41-7" class="g"><use href="#R" x="395"/></g><g id="k41-8" class="g"><use href="#R" x="447"/></g><g id="k41-9" class="g"><use href="#R" x="499"/></g><g id="k41-10"><use href="#R" x="551"/></g><g id="k41-11"><use href="#R" x="603"/></g><g id="k41-12"><use href="#R" x="655"/></g><g id="k41-13"><use href="#R" x="707"/></g><g id="k41-14"><use href="#R" x="759"/></g></g>
<g id="row42" transform="translate(.5 2194)"><g id="k42-1"><use href="#L" x="83"/></g><g id="k42-2"><use href="#L" x="135"/></g><g id="k42-3"><use href="#L" x="187"/></g><g id="k42-4"><use href="#L" x="239"/></g><g id="k42-5" class="g"><use href="#L" x="291"/></g><g id="k42-6"><use href="#L" x="343"/></g><g id="k42-7"><use href="#L" x="395"/></g><g id="k42-8"><use href="#L" x="447"/></g><g id="k42-9"><use href="#L" x="499"/></g><g id="k42-10" class="g"><use href="#L" x="551"/></g><g id="k42-11"><use href="#L" x="603"/></g><g id="k42-12"><use href="#L" x="655"/></g><g id="k42-13"><use href="#L" x="707"/></g><g id="k42-14"><use href="#L" x="759"/></g></g>
<g id="row43" transform="translate(.5 2246)"><g id="k43-1"><use href="#R" x="83"/></g><g id="k43-2"><use href="#R" x="135"/></g><g id="k43-3" class="g"><use href="#R" x="187"/></g><g id="k43-4" class="g"><use href="#R" x="239"/></g><g id="k43-5"><use href="#R" x="291"/></g><g id="k43-6"><use href="#R" x="343"/></g><g id="k43-7"><use href="#R" x="395"/></g><g id="k43-8"><use href="#R" x="447"/></g><g id="k43-9"><use href="#R" x="499"/></g><g id="k43-10"><use href="#R" x="551"/></g><g id="k43-11" class="g"><use href="#R" x="603"/></g><g id="k43-12" class="g"><use href="#R" x="655"/></g><g id="k43-13"><use href="#R" x="707"/></g><g id="k43-14"><use href="#R" x="759"/></g></g>
<g id="row44" transform="translate(.5 2298)"><g id="k44-1"><use href="#L" x="83"/></g><g id="k44-2"><use href="#L" x="135"/></g><g id="k44-3"><use href="#L" x="187"/></g><g id="k44-4" class="g"><use href="#L" x="239"/></g><g id="k44-5"><use href="#L" x="291"/></g><g id="k44-6"><use href="#L" x="343"/></g><g id="k44-7"><use href="#L" x="395"/></g><g id="k44-8"><use href="#L" x="447"/></g><g id="k44-9"><use href="#L" x="499"/></g><g id="k44-10"><use href="#L" x="551"/></g><g id="k44-11" class="g"><use href="#L" x="603"/></g><g id="k44-12"><use href="#L" x="655"/></g><g id="k44-13"><use href="#L" x="707"/></g><g id="k44-14"><use href="#L" x="759"/></g></g>
<g id="row45" transform="translate(.5 2350)"><g id="k45-1"><use href="#R" x="83"/></g><g id="k45-2"><use href="#R" x="135"/></g><g id="k45-3"><use href="#R" x="187"/></g><g id="k45-4"><use href="#R" x="239"/></g><g id="k45-5"><use href="#R" x="291"/></g><g id="k45-6"><use href="#R" x="343"/></g><g id="k45-7"><use href="#R" x="395"/></g><g id="k45-8"><use href="#R" x="447"/></g><g id="k45-9"><use href="#R" x="499"/></g><g id="k45-10"><use href="#R" x="551"/></g><g id="k45-11"><use href="#R" x="603"/></g><g id="k45-12"><use href="#R" x="655"/></g><g id="k45-13"><use href="#R" x="707"/></g><g id="k45-14"><use href="#R" x="759"/></g></g>
<g id="row46" transform="translate(.5 2402)"><g id="k46-1"><use href="#L" x="83"/></g><g id="k46-2"><use href="#L" x="135"/></g><g id="k46-3"><use href="#L" x="187"/></g><g id="k46-4"><use href="#L" x="239"/></g><g id="k46-5"><use href="#L" x="291"/></g><g id="k46-6"><use href="#L" x="343"/></g><g id="k46-7"><use href="#L" x="395"/></g><g id="k46-8"><use href="#L" x="447"/></g><g id="k46-9"><use href="#L" x="499"/></g><g id="k46-10"><use href="#L" x="551"/></g><g id="k46-11"><use href="#L" x="603"/></g><g id="k46-12"><use href="#L" x="655"/></g><g id="k46-13"><use href="#L" x="707"/></g><g id="k46-14"><use href="#L" x="759"/></g></g>
<g id="row47" transform="translate(.5 2454)"><g id="k47-1"><use href="#R" x="83"/></g><g id="k47-2"><use href="#R" x="135"/></g><g id="k47-3"><use href="#R" x="187"/></g><g id="k47-4" class="g"><use href="#R" x="239"/></g><g id="k47-5"><use href="#R" x="291"/></g><g id="k47-6"><use href="#R" x="343"/></g><g id="k47-7"><use href="#R" x="395"/></g><g id="k47-8"><use href="#R" x="447"/></g><g id="k47-9"><use href="#R" x="499"/></g><g id="k47-10"><use href="#R" x="551"/></g><g id="k47-11" class="g"><use href="#R" x="603"/></g><g id="k47-12"><use href="#R" x="655"/></g><g id="k47-13"><use href="#R" x="707"/></g><g id="k47-14"><use href="#R" x="759"/></g></g>
<g id="row48" transform="translate(.5 2506)"><g id="k48-1"><use href="#L" x="83"/></g><g id="k48-2"><use href="#L" x="135"/></g><g id="k48-3" class="g"><use href="#L" x="187"/></g><g id="k48-4" class="g"><use href="#L" x="239"/></g><g id="k48-5"><use href="#L" x="291"/></g><g id="k48-6"><use href="#L" x="343"/></g><g id="k48-7"><use href="#L" x="395"/></g><g id="k48-8"><use href="#L" x="447"/></g><g id="k48-9"><use href="#L" x="499"/></g><g id="k48-10"><use href="#L" x="551"/></g><g id="k48-11" class="g"><use href="#L" x="603"/></g><g id="k48-12" class="g"><use href="#L" x="655"/></g><g id="k48-13"><use href="#L" x="707"/></g><g id="k48-14"><use href="#L" x="759"/></g></g>
<g id="row49" transform="translate(.5 2558)"><g id="k49-1"><use href="#R" x="83"/></g><g id="k49-2"><use href="#R" x="135"/></g><g id="k49-3"><use href="#R" x="187"/></g><g id="k49-4"><use href="#R" x="239"/></g><g id="k49-5" class="g"><use href="#R" x="291"/></g><g id="k49-6"><use href="#R" x="343"/></g><g id="k49-7"><use href="#R" x="395"/></g><g id="k49-8"><use href="#R" x="447"/></g><g id="k49-9"><use href="#R" x="499"/></g><g id="k49-10" class="g"><use href="#R" x="551"/></g><g id="k49-11"><use href="#R" x="603"/></g><g id="k49-12"><use href="#R" x="655"/></g><g id="k49-13"><use href="#R" x="707"/></g><g id="k49-14"><use href="#R" x="759"/></g></g>
<g id="row50" transform="translate(.5 2610)"><g id="k50-1"><use href="#L" x="83"/></g><g id="k50-2"><use href="#L" x="135"/></g><g id="k50-3"><use href="#L" x="187"/></g><g id="k50-4"><use href="#L" x="239"/></g><g id="k50-5"><use href="#L" x="291"/></g><g id="k50-6" class="g"><use href="#L" x="343"/></g><g id="k50-7" class="g"><use href="#L" x="395"/></g><g id="k50-8" class="g"><use href="#L" x="447"/></g><g id="k50-9" class="g"><use href="#L" x="499"/></g><g id="k50-10"><use href="#L" x="551"/></g><g id="k50-11"><use href="#L" x="603"/></g><g id="k50-12"><use href="#L" x="655"/></g><g id="k50-13"><use href="#L" x="707"/></g><g id="k50-14"><use href="#L" x="759"/></g></g>
<g id="row51" transform="translate(.5 2662)"><g id="k51-1"><use href="#R" x="83"/></g><g id="k51-2"><use href="#R" x="135"/></g><g id="k51-3"><use href="#R" x="187"/></g><g id="k51-4" class="g"><use href="#R" x="239"/></g><g id="k51-5" class="g"><use href="#R" x="291"/></g><g id="k51-6" class="g"><use href="#R" x="343"/></g><g id="k51-7"><use href="#R" x="395"/></g><g id="k51-8"><use href="#R" x="447"/></g><g id="k51-9" class="g"><use href="#R" x="499"/></g><g id="k51-10" class="g"><use href="#R" x="551"/></g><g id="k51-11"><use href="#R" x="603"/></g><g id="k51-12"><use href="#R" x="655"/></g><g id="k51-13"><use href="#R" x="707"/></g><g id="k51-14"><use href="#R" x="759"/></g></g>
<g id="row52" transform="translate(.5 2714)"><g id="k52-1"><use href="#L" x="83"/></g><g id="k52-2"><use href="#L" x="135"/></g><g id="k52-3"><use href="#L" x="187"/></g><g id="k52-4"><use href="#L" x="239"/></g><g id="k52-5" class="g"><use href="#L" x="291"/></g><g id="k52-6" class="g"><use href="#L" x="343"/></g><g id="k52-7" class="g"><use href="#L" x="395"/></g><g id="k52-8"><use href="#L" x="447"/></g><g id="k52-9" class="g"><use href="#L" x="499"/></g><g id="k52-10" class="g"><use href="#L" x="551"/></g><g id="k52-11"><use href="#L" x="603"/></g><g id="k52-12"><use href="#L" x="655"/></g><g id="k52-13"><use href="#L" x="707"/></g><g id="k52-14"><use href="#L" x="759"/></g></g>
<g id="row53" transform="translate(.5 2766)"><g id="k53-1"><use href="#R" x="83"/></g><g id="k53-2"><use href="#R" x="135"/></g><g id="k53-3"><use href="#R" x="187"/></g><g id="k53-4" class="g"><use href="#R" x="239"/></g><g id="k53-5" class="g"><use href="#R" x="291"/></g><g id="k53-6"><use href="#R" x="343"/></g><g id="k53-7" class="g"><use href="#R" x="395"/></g><g id="k53-8" class="g"><use href="#R" x="447"/></g><g id="k53-9" class="g"><use href="#R" x="499"/></g><g id="k53-10" class="g"><use href="#R" x="551"/></g><g id="k53-11"><use href="#R" x="603"/></g><g id="k53-12"><use href="#R" x="655"/></g><g id="k53-13"><use href="#R" x="707"/></g><g id="k53-14"><use href="#R" x="759"/></g></g>
<g id="row54" transform="translate(.5 2818)"><g id="k54-1"><use href="#L" x="83"/></g><g id="k54-2"><use href="#L" x="135"/></g><g id="k54-3"><use href="#L" x="187"/></g><g id="k54-4"><use href="#L" x="239"/></g><g id="k54-5" class="g"><use href="#L" x="291"/></g><g id="k54-6" class="g"><use href="#L" x="343"/></g><g id="k54-7" class="g"><use href="#L" x="395"/></g><g id="k54-8"><use href="#L" x="447"/></g><g id="k54-9" class="g"><use href="#L" x="499"/></g><g id="k54-10" class="g"><use href="#L" x="551"/></g><g id="k54-11"><use href="#L" x="603"/></g><g id="k54-12"><use href="#L" x="655"/></g><g id="k54-13"><use href="#L" x="707"/></g><g id="k54-14"><use href="#L" x="759"/></g></g>
<g id="row55" transform="translate(.5 2870)"><g id="k55-1"><use href="#R" x="83"/></g><g id="k55-2"><use href="#R" x="135"/></g><g id="k55-3"><use href="#R" x="187"/></g><g id="k55-4" class="g"><use href="#R" x="239"/></g><g id="k55-5" class="g"><use href="#R" x="291"/></g><g id="k55-6" class="g"><use href="#R" x="343"/></g><g id="k55-7"><use href="#R" x="395"/></g><g id="k55-8"><use href="#R" x="447"/></g><g id="k55-9" class="g"><use href="#R" x="499"/></g><g id="k55-10" class="g"><use href="#R" x="551"/></g><g id="k55-11"><use href="#R" x="603"/></g><g id="k55-12"><use href="#R" x="655"/></g><g id="k55-13"><use href="#R" x="707"/></g><g id="k55-14"><use href="#R" x="759"/></g></g>
<g id="row56" transform="translate(.5 2922)"><g id="k56-1"><use href="#L" x="83"/></g><g id="k56-2"><use href="#L" x="135"/></g><g id="k56-3"><use href="#L" x="187"/></g><g id="k56-4"><use href="#L" x="239"/></g><g id="k56-5"><use href="#L" x="291"/></g><g id="k56-6" class="g"><use href="#L" x="343"/></g><g id="k56-7" class="g"><use href="#L" x="395"/></g><g id="k56-8" class="g"><use href="#L" x="447"/></g><g id="k56-9" class="g"><use href="#L" x="499"/></g><g id="k56-10"><use href="#L" x="551"/></g><g id="k56-11"><use href="#L" x="603"/></g><g id="k56-12"><use href="#L" x="655"/></g><g id="k56-13"><use href="#L" x="707"/></g><g id="k56-14"><use href="#L" x="759"/></g></g>
<g id="row57" transform="translate(.5 2974)"><g id="k57-1"><use href="#R" x="83"/></g><g id="k57-2"><use href="#R" x="135"/></g><g id="k57-3"><use href="#R" x="187"/></g><g id="k57-4"><use href="#R" x="239"/></g><g id="k57-5" class="g"><use href="#R" x="291"/></g><g id="k57-6"><use href="#R" x="343"/></g><g id="k57-7"><use href="#R" x="395"/></g><g id="k57-8"><use href="#R" x="447"/></g><g id="k57-9"><use href="#R" x="499"/></g><g id="k57-10" class="g"><use href="#R" x="551"/></g><g id="k57-11"><use href="#R" x="603"/></g><g id="k57-12"><use href="#R" x="655"/></g><g id="k57-13"><use href="#R" x="707"/></g><g id="k57-14"><use href="#R" x="759"/></g></g>
<g id="row58" transform="translate(.5 3026)"><g id="k58-1"><use href="#L" x="83"/></g><g id="k58-2"><use href="#L" x="135"/></g><g id="k58-3" class="g"><use href="#L" x="187"/></g><g id="k58-4" class="g"><use href="#L" x="239"/></g><g id="k58-5"><use href="#L" x="291"/></g><g id="k58-6"><use href="#L" x="343"/></g><g id="k58-7"><use href="#L" x="395"/></g><g id="k58-8"><use href="#L" x="447"/></g><g id="k58-9"><use href="#L" x="499"/></g><g id="k58-10"><use href="#L" x="551"/></g><g id="k58-11" class="g"><use href="#L" x="603"/></g><g id="k58-12" class="g"><use href="#L" x="655"/></g><g id="k58-13"><use href="#L" x="707"/></g><g id="k58-14"><use href="#L" x="759"/></g></g>
<g id="row59" transform="translate(.5 3078)"><g id="k59-1"><use href="#R" x="83"/></g><g id="k59-2"><use href="#R" x="135"/></g><g id="k59-3"><use href="#R" x="187"/></g><g id="k59-4" class="g"><use href="#R" x="239"/></g><g id="k59-5"><use href="#R" x="291"/></g><g id="k59-6"><use href="#R" x="343"/></g><g id="k59-7"><use href="#R" x="395"/></g><g id="k59-8"><use href="#R" x="447"/></g><g id="k59-9"><use href="#R" x="499"/></g><g id="k59-10"><use href="#R" x="551"/></g><g id="k59-11" class="g"><use href="#R" x="603"/></g><g id="k59-12"><use href="#R" x="655"/></g><g id="k59-13"><use href="#R" x="707"/></g><g id="k59-14"><use href="#R" x="759"/></g></g>
<g id="row60" transform="translate(.5 3130)"><g id="k60-1"><use href="#L" x="83"/></g><g id="k60-2"><use href="#L" x="135"/></g><g id="k60-3"><use href="#L" x="187"/></g><g id="k60-4"><use href="#L" x="239"/></g><g id="k60-5"><use href="#L" x="291"/></g><g id="k60-6"><use href="#L" x="343"/></g><g id="k60-7"><use href="#L" x="395"/></g><g id="k60-8"><use href="#L" x="447"/></g><g id="k60-9"><use href="#L" x="499"/></g><g id="k60-10"><use href="#L" x="551"/></g><g id="k60-11"><use href="#L" x="603"/></g><g id="k60-12"><use href="#L" x="655"/></g><g id="k60-13"><use href="#L" x="707"/></g><g id="k60-14"><use href="#L" x="759"/></g></g>
<g id="row61" transform="translate(.5 3182)"><g id="k61-1"><use href="#R" x="83"/></g><g id="k61-2"><use href="#R" x="135"/></g><g id="k61-3"><use href="#R" x="187"/></g><g id="k61-4"><use href="#R" x="239"/></g><g id="k61-5"><use href="#R" x="291"/></g><g id="k61-6"><use href="#R" x="343"/></g><g id="k61-7"><use href="#R" x="395"/></g><g id="k61-8"><use href="#R" x="447"/></g><g id="k61-9"><use href="#R" x="499"/></g><g id="k61-10"><use href="#R" x="551"/></g><g id="k61-11"><use href="#R" x="603"/></g><g id="k61-12"><use href="#R" x="655"/></g><g id="k61-13"><use href="#R" x="707"/></g><g id="k61-14"><use href="#R" x="759"/></g></g>
<g id="row62" transform="translate(.5 3234)"><g id="k62-1"><use href="#L" x="83"/></g><g id="k62-2"><use href="#L" x="135"/></g><g id="k62-3"><use href="#L" x="187"/></g><g id="k62-4" class="g"><use href="#L" x="239"/></g><g id="k62-5"><use href="#L" x="291"/></g><g id="k62-6"><use href="#L" x="343"/></g><g id="k62-7"><use href="#L" x="395"/></g><g id="k62-8"><use href="#L" x="447"/></g><g id="k62-9"><use href="#L" x="499"/></g><g id="k62-10"><use href="#L" x="551"/></g><g id="k62-11" class="g"><use href="#L" x="603"/></g><g id="k62-12"><use href="#L" x="655"/></g><g id="k62-13"><use href="#L" x="707"/></g><g id="k62-14"><use href="#L" x="759"/></g></g>
<g id="row63" transform="translate(.5 3286)"><g id="k63-1"><use href="#R" x="83"/></g><g id="k63-2"><use href="#R" x="135"/></g><g id="k63-3" class="g"><use href="#R" x="187"/></g><g id="k63-4" class="g"><use href="#R" x="239"/></g><g id="k63-5"><use href="#R" x="291"/></g><g id="k63-6"><use href="#R" x="343"/></g><g id="k63-7"><use href="#R" x="395"/></g><g id="k63-8"><use href="#R" x="447"/></g><g id="k63-9"><use href="#R" x="499"/></g><g id="k63-10"><use href="#R" x="551"/></g><g id="k63-11" class="g"><use href="#R" x="603"/></g><g id="k63-12" class="g"><use href="#R" x="655"/></g><g id="k63-13"><use href="#R" x="707"/></g><g id="k63-14"><use href="#R" x="759"/></g></g>
<g id="row64" transform="translate(.5 3338)"><g id="k64-1"><use href="#L" x="83"/></g><g id="k64-2"><use href="#L" x="135"/></g><g id="k64-3"><use href="#L" x="187"/></g><g id="k64-4"><use href="#L" x="239"/></g><g id="k64-5" class="g"><use href="#L" x="291"/></g><g id="k64-6"><use href="#L" x="343"/></g><g id="k64-7"><use href="#L" x="395"/></g><g id="k64-8"><use href="#L" x="447"/></g><g id="k64-9"><use href="#L" x="499"/></g><g id="k64-10" class="g"><use href="#L" x="551"/></g><g id="k64-11"><use href="#L" x="603"/></g><g id="k64-12"><use href="#L" x="655"/></g><g id="k64-13"><use href="#L" x="707"/></g><g id="k64-14"><use href="#L" x="759"/></g></g>
<g id="row65" transform="translate(.5 3390)"><g id="k65-1"><use href="#R" x="83"/></g><g id="k65-2"><use href="#R" x="135"/></g><g id="k65-3"><use href="#R" x="187"/></g><g id="k65-4"><use href="#R" x="239"/></g><g id="k65-5"><use href="#R" x="291"/></g><g id="k65-6" class="g"><use href="#R" x="343"/></g><g id="k65-7" class="g"><use href="#R" x="395"/></g><g id="k65-8" class="g"><use href="#R" x="447"/></g><g id="k65-9" class="g"><use href="#R" x="499"/></g><g id="k65-10"><use href="#R" x="551"/></g><g id="k65-11"><use href="#R" x="603"/></g><g id="k65-12"><use href="#R" x="655"/></g><g id="k65-13"><use href="#R" x="707"/></g><g id="k65-14"><use href="#R" x="759"/></g></g>
<g id="row66" transform="translate(.5 3442)"><g id="k66-1"><use href="#L" x="83"/></g><g id="k66-2"><use href="#L" x="135"/></g><g id="k66-3"><use href="#L" x="187"/></g><g id="k66-4" class="g"><use href="#L" x="239"/></g><g id="k66-5" class="g"><use href="#L" x="291"/></g><g id="k66-6" class="g"><use href="#L" x="343"/></g><g id="k66-7"><use href="#L" x="395"/></g><g id="k66-8"><use href="#L" x="447"/></g><g id="k66-9" class="g"><use href="#L" x="499"/></g><g id="k66-10" class="g"><use href="#L" x="551"/></g><g id="k66-11"><use href="#L" x="603"/></g><g id="k66-12"><use href="#L" x="655"/></g><g id="k66-13"><use href="#L" x="707"/></g><g id="k66-14"><use href="#L" x="759"/></g></g>
<g id="row67" transform="translate(.5 3494)"><g id="k67-1"><use href="#R" x="83"/></g><g id="k67-2"><use href="#R" x="135"/></g><g id="k67-3"><use href="#R" x="187"/></g><g id="k67-4"><use href="#R" x="239"/></g><g id="k67-5" class="g"><use href="#R" x="291"/></g><g id="k67-6" class="g"><use href="#R" x="343"/></g><g id="k67-7" class="g"><use href="#R" x="395"/></g><g id="k67-8"><use href="#R" x="447"/></g><g id="k67-9" class="g"><use href="#R" x="499"/></g><g id="k67-10" class="g"><use href="#R" x="551"/></g><g id="k67-11"><use href="#R" x="603"/></g><g id="k67-12"><use href="#R" x="655"/></g><g id="k67-13"><use href="#R" x="707"/></g><g id="k67-14"><use href="#R" x="759"/></g></g>
<g id="row68" transform="translate(.5 3546)"><g id="k68-1"><use href="#L" x="83"/></g><g id="k68-2"><use href="#L" x="135"/></g><g id="k68-3"><use href="#L" x="187"/></g><g id="k68-4" class="g"><use href="#L" x="239"/></g><g id="k68-5" class="g"><use href="#L" x="291"/></g><g id="k68-6"><use href="#L" x="343"/></g><g id="k68-7" class="g"><use href="#L" x="395"/></g><g id="k68-8" class="g"><use href="#L" x="447"/></g><g id="k68-9" class="g"><use href="#L" x="499"/></g><g id="k68-10" class="g"><use href="#L" x="551"/></g><g id="k68-11"><use href="#L" x="603"/></g><g id="k68-12"><use href="#L" x="655"/></g><g id="k68-13"><use href="#L" x="707"/></g><g id="k68-14"><use href="#L" x="759"/></g></g>
<g id="row69" transform="translate(.5 3598)"><g id="k69-1"><use href="#R" x="83"/></g><g id="k69-2"><use href="#R" x="135"/></g><g id="k69-3"><use href="#R" x="187"/></g><g id="k69-4"><use href="#R" x="239"/></g><g id="k69-5" class="g"><use href="#R" x="291"/></g><g id="k69-6" class="g"><use href="#R" x="343"/></g><g id="k69-7" class="g"><use href="#R" x="395"/></g><g id="k69-8"><use href="#R" x="447"/></g><g id="k69-9" class="g"><use href="#R" x="499"/></g><g id="k69-10" class="g"><use href="#R" x="551"/></g><g id="k69-11"><use href="#R" x="603"/></g><g id="k69-12"><use href="#R" x="655"/></g><g id="k69-13"><use href="#R" x="707"/></g><g id="k69-14"><use href="#R" x="759"/></g></g>
<g id="row70" transform="translate(.5 3650)"><g id="k70-1"><use href="#L" x="83"/></g><g id="k70-2"><use href="#L" x="135"/></g><g id="k70-3"><use href="#L" x="187"/></g><g id="k70-4" class="g"><use href="#L" x="239"/></g><g id="k70-5" class="g"><use href="#L" x="291"/></g><g id="k70-6" class="g"><use href="#L" x="343"/></g><g id="k70-7"><use href="#L" x="395"/></g><g id="k70-8"><use href="#L" x="447"/></g><g id="k70-9" class="g"><use href="#L" x="499"/></g><g id="k70-10" class="g"><use href="#L" x="551"/></g><g id="k70-11"><use href="#L" x="603"/></g><g id="k70-12"><use href="#L" x="655"/></g><g id="k70-13"><use href="#L" x="707"/></g><g id="k70-14"><use href="#L" x="759"/></g></g>
<g id="row71" transform="translate(.5 3702)"><g id="k71-1"><use href="#R" x="83"/></g><g id="k71-2"><use href="#R" x="135"/></g><g id="k71-3"><use href="#R" x="187"/></g><g id="k71-4"><use href="#R" x="239"/></g><g id="k71-5"><use href="#R" x="291"/></g><g id="k71-6" class="g"><use href="#R" x="343"/></g><g id="k71-7" class="g"><use href="#R" x="395"/></g><g id="k71-8" class="g"><use href="#R" x="447"/></g><g id="k71-9" class="g"><use href="#R" x="499"/></g><g id="k71-10"><use href="#R" x="551"/></g><g id="k71-11"><use href="#R" x="603"/></g><g id="k71-12"><use href="#R" x="655"/></g><g id="k71-13"><use href="#R" x="707"/></g><g id="k71-14"><use href="#R" x="759"/></g></g>
<g id="row72" transform="translate(.5 3754)"><g id="k72-1"><use href="#L" x="83"/></g><g id="k72-2"><use href="#L" x="135"/></g><g id="k72-3"><use href="#L" x="187"/></g><g id="k72-4"><use href="#L" x="239"/></g><g id="k72-5" class="g"><use href="#L" x="291"/></g><g id="k72-6"><use href="#L" x="343"/></g><g id="k72-7"><use href="#L" x="395"/></g><g id="k72-8"><use href="#L" x="447"/></g><g id="k72-9"><use href="#L" x="499"/></g><g id="k72-10" class="g"><use href="#L" x="551"/></g><g id="k72-11"><use href="#L" x="603"/></g><g id="k72-12"><use href="#L" x="655"/></g><g id="k72-13"><use href="#L" x="707"/></g><g id="k72-14"><use href="#L" x="759"/></g></g>
<g id="row73" transform="translate(.5 3806)"><g id="k73-1"><use href="#R" x="83"/></g><g id="k73-2"><use href="#R" x="135"/></g><g id="k73-3" class="g"><use href="#R" x="187"/></g><g id="k73-4" class="g"><use href="#R" x="239"/></g><g id="k73-5"><use href="#R" x="291"/></g><g id="k73-6"><use href="#R" x="343"/></g><g id="k73-7"><use href="#R" x="395"/></g><g id="k73-8"><use href="#R" x="447"/></g><g id="k73-9"><use href="#R" x="499"/></g><g id="k73-10"><use href="#R" x="551"/></g><g id="k73-11" class="g"><use href="#R" x="603"/></g><g id="k73-12" class="g"><use href="#R" x="655"/></g><g id="k73-13"><use href="#R" x="707"/></g><g id="k73-14"><use href="#R" x="759"/></g></g>
<g id="row74" transform="translate(.5 3858)"><g id="k74-1"><use href="#L" x="83"/></g><g id="k74-2"><use href="#L" x="135"/></g><g id="k74-3"><use href="#L" x="187"/></g><g id="k74-4" class="g"><use href="#L" x="239"/></g><g id="k74-5"><use href="#L" x="291"/></g><g id="k74-6"><use href="#L" x="343"/></g><g id="k74-7"><use href="#L" x="395"/></g><g id="k74-8"><use href="#L" x="447"/></g><g id="k74-9"><use href="#L" x="499"/></g><g id="k74-10"><use href="#L" x="551"/></g><g id="k74-11" class="g"><use href="#L" x="603"/></g><g id="k74-12"><use href="#L" x="655"/></g><g id="k74-13"><use href="#L" x="707"/></g><g id="k74-14"><use href="#L" x="759"/></g></g>
<g id="row75" transform="translate(.5 3910)"><g id="k75-1"><use href="#R" x="83"/></g><g id="k75-2"><use href="#R" x="135"/></g><g id="k75-3"><use href="#R" x="187"/></g><g id="k75-4"><use href="#R" x="239"/></g><g id="k75-5"><use href="#R" x="291"/></g><g id="k75-6"><use href="#R" x="343"/></g><g id="k75-7"><use href="#R" x="395"/></g><g id="k75-8"><use href="#R" x="447"/></g><g id="k75-9"><use href="#R" x="499"/></g><g id="k75-10"><use href="#R" x="551"/></g><g id="k75-11"><use href="#R" x="603"/></g><g id="k75-12"><use href="#R" x="655"/></g><g id="k75-13"><use href="#R" x="707"/></g><g id="k75-14"><use href="#R" x="759"/></g></g>
</g>
<text id="watermark" x="422.5" y="2018" text-anchor="middle" font-family="'Liberation Sans', Arial, sans-serif" font-weight="bold" font-size="16" textLength="155" lengthAdjust="spacingAndGlyphs" fill="#333" stroke="#fff" stroke-width="2.5" paint-order="stroke">BRACELETBOOK.COM</text>
</svg>
